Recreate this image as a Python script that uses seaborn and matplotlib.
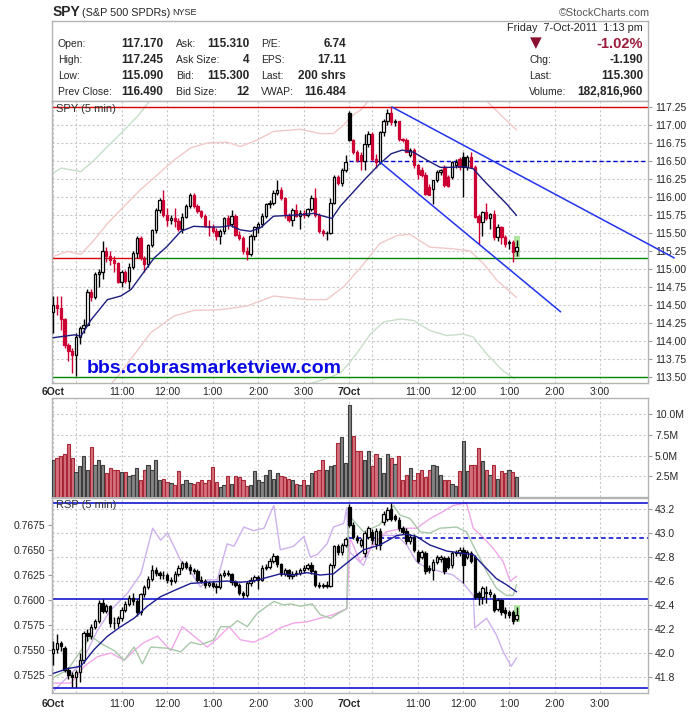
import numpy as np
import matplotlib
matplotlib.use("Agg")
import matplotlib.pyplot as plt
import seaborn as sns
from matplotlib.patches import Rectangle

sns.set_style("white")
plt.rcParams['font.family'] = ['Liberation Sans', 'DejaVu Sans']

# ---------------- data (5 min bars, 6 Oct bars 0-77, 7 Oct bars 78-122) ----------------
spy_open = [114.40, 114.50, 114.45, 114.30, 113.94, 113.85, 113.80, 114.05, 114.18, 114.22,
            114.68, 114.60, 114.92, 114.95, 115.25, 115.17, 115.12, 115.08, 114.82, 114.95,
            114.83, 115.03, 115.22, 115.43, 115.15, 115.06, 115.33, 115.54, 115.82, 115.96,
            115.75, 115.68, 115.70, 115.66, 115.55, 115.72, 115.87, 116.03, 115.87, 115.80,
            115.74, 115.60, 115.58, 115.52, 115.45, 115.52, 115.70, 115.62, 115.73, 115.47,
            115.43, 115.25, 115.20, 115.45, 115.58, 115.62, 115.74, 115.90, 115.92, 116.05,
            116.10, 115.98, 115.75, 115.68, 115.82, 115.74, 115.78, 115.75, 115.83, 115.99,
            115.75, 115.52, 115.49, 115.50, 115.92, 116.27, 116.19, 116.37,
            117.17, 116.79, 116.62, 116.58, 116.50, 116.74, 116.88, 116.53, 116.48, 116.90,
            117.06, 117.16, 117.04, 117.05, 116.80, 116.79, 116.58, 116.65, 116.44, 116.38,
            116.31, 116.13, 116.11, 116.23, 116.35, 116.41, 116.28, 116.28, 116.44, 116.52,
            116.55, 116.41, 116.55, 116.42, 115.74, 115.65, 115.79, 115.70, 115.76, 115.44,
            115.58, 115.44, 115.36, 115.37, 115.25]
spy_high = [114.62, 114.62, 114.62, 114.32, 113.96, 113.90, 114.10, 114.20, 114.30, 114.72,
            114.72, 114.95, 115.00, 115.38, 115.30, 115.25, 115.18, 115.10, 114.98, 114.98,
            115.08, 115.25, 115.45, 115.45, 115.18, 115.35, 115.55, 115.85, 115.98, 116.10,
            115.85, 115.75, 115.84, 115.70, 115.78, 115.90, 116.05, 116.05, 115.90, 115.82,
            115.76, 115.68, 115.62, 115.56, 115.55, 115.72, 115.75, 115.82, 115.76, 115.52,
            115.45, 115.30, 115.48, 115.60, 115.65, 115.78, 115.92, 115.95, 116.10, 116.24,
            116.14, 116.00, 115.78, 115.85, 115.90, 115.82, 115.82, 115.85, 116.02, 116.12,
            115.77, 115.55, 115.53, 115.98, 116.30, 116.30, 116.40, 116.58,
            117.20, 116.80, 116.65, 116.62, 116.88, 116.92, 116.90, 116.60, 116.92, 117.08,
            117.22, 117.245, 117.08, 117.06, 116.82, 116.82, 116.68, 116.68, 116.46, 116.42,
            116.34, 116.18, 116.24, 116.37, 116.39, 116.44, 116.30, 116.50, 116.53, 116.56,
            116.62, 116.58, 116.62, 116.44, 115.76, 115.80, 115.92, 115.78, 115.82, 115.62,
            115.60, 115.47, 115.40, 115.40, 115.40]
spy_low = [114.11, 114.35, 114.15, 113.90, 113.72, 113.55, 113.51, 113.95, 114.10, 114.20,
           114.55, 114.58, 114.75, 114.85, 115.10, 115.05, 114.95, 114.80, 114.75, 114.80,
           114.72, 115.00, 115.15, 115.12, 114.95, 115.03, 115.30, 115.50, 115.78, 115.72,
           115.60, 115.62, 115.58, 115.52, 115.50, 115.70, 115.85, 115.85, 115.78, 115.70,
           115.58, 115.45, 115.50, 115.40, 115.35, 115.48, 115.55, 115.58, 115.45, 115.40,
           115.20, 115.12, 115.18, 115.40, 115.50, 115.58, 115.70, 115.85, 115.88, 116.02,
           115.95, 115.70, 115.65, 115.60, 115.72, 115.55, 115.70, 115.72, 115.80, 115.72,
           115.50, 115.45, 115.40, 115.48, 115.90, 116.17, 116.15, 116.35,
           116.78, 116.60, 116.48, 116.37, 116.37, 116.70, 116.50, 116.40, 116.45, 116.85,
           117.00, 117.00, 116.98, 116.78, 116.76, 116.62, 116.55, 116.40, 116.25, 116.28,
           116.02, 116.02, 115.90, 116.20, 116.30, 116.14, 116.14, 116.25, 116.40, 116.38,
           116.00, 116.38, 116.40, 115.70, 115.35, 115.45, 115.68, 115.55, 115.40, 115.38,
           115.35, 115.30, 115.28, 115.09, 115.18]
spy_close = [114.50, 114.45, 114.30, 113.94, 113.85, 113.80, 114.05, 114.18, 114.22, 114.68,
             114.60, 114.92, 114.95, 115.25, 115.17, 115.12, 115.08, 114.82, 114.95, 114.83,
             115.03, 115.22, 115.43, 115.15, 115.06, 115.33, 115.54, 115.82, 115.96, 115.75,
             115.68, 115.70, 115.66, 115.55, 115.72, 115.87, 116.03, 115.87, 115.80, 115.74,
             115.60, 115.58, 115.52, 115.45, 115.52, 115.70, 115.62, 115.73, 115.47, 115.43,
             115.25, 115.20, 115.45, 115.58, 115.62, 115.74, 115.90, 115.92, 116.05, 116.10,
             115.98, 115.75, 115.68, 115.82, 115.74, 115.78, 115.75, 115.83, 115.99, 115.75,
             115.52, 115.49, 115.50, 115.92, 116.27, 116.19, 116.37, 116.49,
             116.79, 116.62, 116.51, 116.50, 116.74, 116.88, 116.53, 116.48, 116.90, 117.06,
             117.16, 117.04, 117.05, 116.80, 116.79, 116.62, 116.65, 116.44, 116.32, 116.31,
             116.04, 116.03, 116.23, 116.35, 116.37, 116.16, 116.15, 116.48, 116.48, 116.41,
             116.41, 116.55, 116.42, 115.72, 115.65, 115.79, 115.70, 115.76, 115.44, 115.58,
             115.44, 115.35, 115.37, 115.23, 115.30]

volume_m = [4.5, 4.7, 5.0, 5.2, 6.4, 4.7, 3.0, 3.7, 4.9, 3.3,
            6.0, 3.9, 4.5, 3.8, 2.9, 3.5, 3.3, 3.3, 3.0, 3.0,
            2.5, 2.7, 3.5, 2.1, 3.3, 3.9, 3.3, 4.5, 2.0, 2.2,
            1.8, 1.7, 1.5, 3.1, 1.6, 2.0, 1.7, 1.6, 1.8, 2.1,
            1.7, 2.1, 3.6, 1.8, 1.2, 1.4, 2.5, 1.6, 2.5, 2.4,
            2.0, 1.3, 1.4, 3.1, 2.0, 1.8, 2.7, 3.2, 2.2, 2.9,
            2.5, 2.4, 2.2, 2.0, 1.6, 1.4, 2.0, 1.4, 2.9, 3.1,
            3.3, 4.5, 3.3, 3.7, 3.9, 6.5, 7.2, 4.1,
            11.1, 7.3, 5.5, 5.5, 4.4, 5.5, 3.7, 5.2, 4.7, 2.9,
            5.2, 4.7, 4.0, 4.9, 2.0, 2.7, 3.5, 2.0, 2.9, 3.3,
            2.4, 3.3, 3.9, 3.7, 2.7, 2.0, 2.1, 1.6, 1.3, 3.1,
            6.7, 3.1, 3.9, 3.9, 5.9, 4.3, 3.2, 2.7, 3.9, 2.2,
            3.1, 2.9, 3.2, 3.0, 2.4]

rsp_open = [42.00, 42.03, 42.08, 42.04, 41.86, 41.82, 41.80, 41.84, 41.94, 42.17,
            42.14, 42.22, 42.27, 42.42, 42.35, 42.39, 42.25, 42.25, 42.29, 42.36,
            42.41, 42.46, 42.43, 42.34, 42.49, 42.55, 42.62, 42.69, 42.67, 42.65,
            42.65, 42.61, 42.60, 42.66, 42.71, 42.75, 42.72, 42.69, 42.68, 42.61,
            42.60, 42.57, 42.58, 42.56, 42.55, 42.65, 42.67, 42.66, 42.59, 42.57,
            42.50, 42.48, 42.58, 42.61, 42.63, 42.61, 42.71, 42.72, 42.77, 42.81,
            42.74, 42.66, 42.69, 42.64, 42.66, 42.67, 42.69, 42.71, 42.73, 42.68,
            42.57, 42.56, 42.56, 42.56, 42.73, 42.89, 42.84, 42.90,
            43.22, 43.07, 42.96, 42.90, 42.83, 42.97, 43.01, 42.91, 43.02, 43.09,
            43.12, 43.20, 43.14, 43.11, 43.04, 43.02, 42.93, 42.97, 42.84, 42.80,
            42.83, 42.71, 42.69, 42.76, 42.78, 42.79, 42.79, 42.73, 42.83, 42.83,
            42.86, 42.80, 42.83, 42.80, 42.50, 42.47, 42.51, 42.49, 42.48, 42.37,
            42.44, 42.36, 42.34, 42.34, 42.28]
rsp_high = [42.10, 42.16, 42.10, 42.06, 41.88, 41.84, 41.86, 42.00, 42.18, 42.20,
            42.24, 42.28, 42.44, 42.45, 42.41, 42.40, 42.30, 42.31, 42.38, 42.43,
            42.48, 42.50, 42.45, 42.50, 42.57, 42.64, 42.73, 42.72, 42.68, 42.68,
            42.67, 42.63, 42.68, 42.73, 42.77, 42.77, 42.74, 42.71, 42.70, 42.64,
            42.62, 42.60, 42.60, 42.58, 42.67, 42.69, 42.69, 42.67, 42.61, 42.58,
            42.52, 42.60, 42.63, 42.65, 42.65, 42.73, 42.74, 42.79, 42.83, 42.82,
            42.75, 42.71, 42.70, 42.68, 42.69, 42.71, 42.73, 42.75, 42.76, 42.69,
            42.59, 42.58, 42.60, 42.75, 42.90, 42.91, 42.92, 42.97,
            43.24, 43.09, 42.98, 42.96, 43.02, 43.06, 43.03, 43.04, 43.04, 43.18,
            43.22, 43.25, 43.16, 43.13, 43.06, 43.04, 42.99, 42.99, 42.86, 42.86,
            42.85, 42.73, 42.78, 42.82, 42.82, 42.81, 42.81, 42.85, 42.86, 42.88,
            42.88, 42.86, 42.85, 42.82, 42.52, 42.56, 42.56, 42.53, 42.50, 42.46,
            42.45, 42.38, 42.36, 42.36, 42.38]
rsp_low = [41.90, 42.00, 42.02, 41.84, 41.78, 41.72, 41.72, 41.76, 41.92, 42.10,
           42.12, 42.20, 42.25, 42.33, 42.33, 42.22, 42.20, 42.22, 42.27, 42.34,
           42.39, 42.40, 42.31, 42.32, 42.47, 42.53, 42.60, 42.64, 42.62, 42.62,
           42.58, 42.57, 42.58, 42.64, 42.69, 42.70, 42.66, 42.66, 42.59, 42.58,
           42.54, 42.55, 42.54, 42.50, 42.53, 42.63, 42.64, 42.57, 42.55, 42.48,
           42.46, 42.47, 42.56, 42.59, 42.53, 42.60, 42.69, 42.70, 42.75, 42.72,
           42.64, 42.64, 42.62, 42.62, 42.64, 42.65, 42.67, 42.69, 42.66, 42.55,
           42.54, 42.54, 42.54, 42.55, 42.71, 42.82, 42.82, 42.88,
           43.05, 42.95, 42.92, 42.88, 42.80, 42.95, 42.91, 42.87, 42.86, 43.07,
           43.10, 43.10, 43.10, 43.02, 42.99, 42.91, 42.91, 42.84, 42.75, 42.78,
           42.66, 42.67, 42.61, 42.74, 42.76, 42.66, 42.70, 42.71, 42.81, 42.81,
           42.58, 42.78, 42.75, 42.45, 42.40, 42.41, 42.42, 42.47, 42.34, 42.35,
           42.32, 42.29, 42.29, 42.24, 42.27]
rsp_close = [42.03, 42.08, 42.06, 41.86, 41.82, 41.80, 41.84, 41.94, 42.17, 42.14,
             42.22, 42.27, 42.42, 42.35, 42.39, 42.25, 42.25, 42.29, 42.36, 42.41,
             42.46, 42.43, 42.34, 42.49, 42.55, 42.62, 42.69, 42.67, 42.65, 42.65,
             42.61, 42.60, 42.66, 42.71, 42.75, 42.72, 42.69, 42.68, 42.61, 42.60,
             42.57, 42.58, 42.56, 42.55, 42.65, 42.67, 42.66, 42.59, 42.57, 42.50,
             42.48, 42.58, 42.61, 42.63, 42.61, 42.71, 42.72, 42.77, 42.81, 42.74,
             42.66, 42.69, 42.64, 42.66, 42.67, 42.69, 42.71, 42.73, 42.68, 42.57,
             42.56, 42.56, 42.56, 42.73, 42.89, 42.84, 42.90, 42.95,
             43.07, 42.97, 42.94, 42.94, 43.00, 43.04, 42.94, 43.02, 42.90, 43.16,
             43.19, 43.12, 43.12, 43.04, 43.01, 42.93, 42.97, 42.86, 42.77, 42.84,
             42.68, 42.69, 42.76, 42.80, 42.80, 42.68, 42.72, 42.83, 42.84, 42.86,
             42.73, 42.84, 42.77, 42.47, 42.47, 42.54, 42.50, 42.51, 42.36, 42.44,
             42.34, 42.33, 42.32, 42.27, 42.32]

# overlays (bar position, value)
spy_ma_x = [0, 5.6, 7.3, 10, 14.3, 17.8, 20.5, 23, 26.6, 30, 33.6, 37, 40.6, 44, 46.7, 49.3, 52,
            54.6, 58, 61.6, 65, 68.6, 71.2, 73.4, 75.6, 78.2, 81.8, 86, 89, 91.9, 94.9, 98.4,
            101.9, 104.5, 108, 110.6, 113.3, 116.8, 119.4, 122]
spy_ma_y = [114.04, 114.08, 114.06, 114.29, 114.57, 114.62, 114.71, 114.89, 115.15, 115.31,
            115.52, 115.59, 115.58, 115.58, 115.60, 115.54, 115.52, 115.57, 115.73, 115.74,
            115.75, 115.77, 115.73, 115.70, 115.87, 116.02, 116.23, 116.46, 116.60, 116.65,
            116.62, 116.51, 116.41, 116.41, 116.42, 116.39, 116.23, 116.04, 115.90, 115.74]
band_up_x = [0, 3.8, 7.3, 10.8, 14.3, 18.7, 23, 27.5, 31.8, 36.2, 40.6, 45.8, 49.3, 53.7, 58,
             65, 70.3, 73.8, 76.5, 79, 81, 84, 100, 110, 114, 118, 122]
band_up_y = [115.17, 115.24, 115.20, 115.40, 115.63, 115.87, 116.10, 116.31, 116.51, 116.68,
             116.75, 116.76, 116.70, 116.79, 116.91, 116.94, 116.88, 116.88, 117.00, 117.14,
             117.21, 117.40, 117.60, 117.45, 117.34, 117.13, 116.93]
band_lo_x = [0, 12, 17, 25.7, 31.8, 37, 44, 51, 58, 66.8, 72, 76.5, 81, 86, 90.4, 93.9, 99.2,
             104.5, 109.7, 113.3, 116.8, 122]
band_lo_y = [112.70, 113.20, 113.50, 114.11, 114.34, 114.42, 114.43, 114.48, 114.62, 114.57,
             114.57, 114.75, 115.02, 115.35, 115.46, 115.48, 115.30, 115.28, 115.25, 115.07,
             114.84, 114.60]
band2_up_x = [0, 2.1, 7.3, 10.8, 14.3, 17.8, 22.2, 25.7, 30]
band2_up_y = [116.33, 116.40, 116.35, 116.51, 116.70, 116.88, 117.12, 117.35, 117.60]
band2_lo_x = [58, 67, 73, 75.6, 78.2, 81, 83.5, 87, 91.4, 94.9, 99.2, 103.6, 108, 110.6, 114,
              118.4, 121.4]
band2_lo_y = [113.25, 113.39, 113.49, 113.55, 113.70, 113.90, 114.09, 114.26, 114.30, 114.28,
              114.14, 114.07, 114.09, 114.05, 113.82, 113.58, 113.47]

rsp_ma_x = [0, 3.8, 7.3, 10.8, 14.3, 17.8, 21.3, 24.8, 28.3, 31.8, 36.2, 40.6, 45.8, 49.3,
            52.8, 56.3, 59.8, 63.3, 66.8, 70.3, 73.8, 77.3, 81.7, 86, 90.5, 93.1, 95.7, 99.2,
            103.6, 108, 110.6, 113.3, 116.7, 119.3, 122]
rsp_ma_y = [41.83, 41.87, 41.89, 42.03, 42.14, 42.22, 42.29, 42.39, 42.47, 42.52, 42.58,
            42.59, 42.60, 42.59, 42.60, 42.63, 42.66, 42.65, 42.67, 42.65, 42.66, 42.75,
            42.86, 42.90, 42.98, 42.99, 42.97, 42.90, 42.85, 42.83, 42.82, 42.73, 42.62,
            42.57, 42.51]
lav_x = [0.3, 7.3, 11.7, 15.2, 19.6, 23.1, 26.2, 28.3, 30.1, 33.6, 35.3, 38.8, 40.6, 43.2,
         45.8, 47.6, 50.2, 52.8, 55.5, 58.1, 59.8, 63.3, 66, 67.7, 69.5, 72.1, 73.8, 76.5,
         77.3, 77.8, 81.7, 84.3, 87, 90.5, 93.1, 95.7, 98.3, 101.8, 105.3, 108, 110.6, 111,
         114.1, 116.7, 118.5, 120.6, 122]
lav_y = [41.69, 41.91, 42.19, 42.36, 42.50, 42.66, 43.04, 42.94, 43.00, 42.77, 42.72, 42.55,
         42.61, 42.61, 42.91, 42.89, 43.05, 43.02, 43.04, 43.23, 42.86, 42.89, 42.97, 42.80,
         42.82, 42.91, 43.05, 43.08, 43.21, 42.85, 42.73, 42.93, 42.98, 42.98, 42.90, 42.76,
         42.71, 42.68, 42.65, 42.58, 42.48, 42.21, 42.29, 42.15, 42.01, 41.89, 41.96]
mag_x = [0.3, 4.7, 8.2, 11.7, 15.2, 18.7, 21.3, 24, 27.5, 31, 34, 37.1, 40.6, 43.2, 46.3,
         49.3, 52.8, 56.3, 59.8, 63.3, 66.8, 70.3, 73.8, 77.3, 78.2, 80.8, 84.3, 87.7, 92,
         95.7, 99.2, 102.7, 105.3, 108.8, 110.6, 113.3, 115.9, 118.5, 120.3, 122]
mag_y = [41.75, 41.75, 41.89, 41.97, 42.00, 41.94, 42.02, 42.09, 42.14, 42.02, 42.22, 42.14,
         42.05, 42.12, 42.22, 42.11, 42.09, 42.14, 42.21, 42.25, 42.26, 42.29, 42.32, 42.37,
         42.96, 42.76, 42.90, 43.01, 43.04, 43.04, 43.12, 43.18, 43.23, 43.25, 43.04, 42.96,
         42.87, 42.76, 42.60, 42.64]
grn_x = [0.3, 3.8, 7.3, 10, 12.6, 16.1, 18.7, 21.3, 23.5, 25.7, 30.1, 33.6, 36.2, 38.8, 42.3,
         44.1, 46.7, 48.5, 51.1, 53.7, 56.3, 58.1, 60.7, 62.5, 65.1, 68.2, 70.3, 73, 75.6,
         77.3, 77.8, 81.7, 86, 89.6, 91.3, 94, 96.6, 99.2, 101.8, 106.2, 108.8, 111.5, 114.1,
         116.7, 119.3, 121.1, 122]
grn_y = [41.80, 41.86, 42.02, 42.14, 42.08, 42.02, 41.94, 42.05, 41.91, 42.05, 42.04, 42.01,
         42.09, 42.07, 42.11, 42.22, 42.22, 42.27, 42.22, 42.33, 42.39, 42.43, 42.40, 42.41,
         42.39, 42.41, 42.32, 42.29, 42.34, 42.37, 43.15, 43.01, 43.07, 43.23, 43.15, 43.12,
         43.01, 43.00, 43.04, 43.05, 43.01, 42.84, 42.68, 42.54, 42.48, 42.48, 42.57]

# trend lines drawn on the chart: (bar, price) end points
trend_upper_x = [89.2, 163.5]
trend_upper_y = [117.25, 115.15]
trend_lower_x = [86.1, 133.6]
trend_lower_y = [116.48, 114.40]

tick_pos = [0, 6, 18, 30, 42, 54, 66, 78, 84, 96, 108, 120, 132, 144]
tick_lab = ['6Oct', '', '11:00', '12:00', '1:00', '2:00', '3:00',
            '7Oct', '', '11:00', '12:00', '1:00', '2:00', '3:00']

# ---------------- layout ----------------
W, H = 700, 712
fig = plt.figure(figsize=(7, 7.12), dpi=100)
fig.patch.set_facecolor('white')


def box(l, t, r, b):
    return [l / W, 1 - b / H, (r - l) / W, (b - t) / H]


ax_info = fig.add_axes(box(52, 21, 648, 101))
ax_p = fig.add_axes(box(52, 101, 648, 383))
ax_v = fig.add_axes(box(52, 398, 648, 497))
ax_r = fig.add_axes(box(52, 498, 648, 693))

SPINE = '#b4b4b4'
GRID = '#c8c8c8'
RED = '#cc0033'
XMIN, XMAX = -0.3, 156.6
n = len(spy_close)
xs = np.arange(n)

for ax in (ax_info, ax_p, ax_v, ax_r):
    for s in ax.spines.values():
        s.set_color(SPINE)
        s.set_linewidth(1)
ax_info.set_xticks([])
ax_info.set_yticks([])


def style_panel(ax, labels):
    ax.set_xlim(XMIN, XMAX)
    ax.set_xticks(tick_pos)
    ax.set_xticklabels(tick_lab if labels else [])
    ax.tick_params(axis='x', length=0, labelsize=7.5, pad=3 if labels else 0)
    for t in ax.get_xticklabels():
        if 'Oct' in t.get_text():
            t.set_fontweight('bold')
    ax.yaxis.tick_right()
    ax.tick_params(axis='y', length=3, color='#999999', labelsize=7.5, pad=2)
    ax.grid(True, color=GRID, lw=0.8, ls=(0, (2, 2)))
    ax.set_axisbelow(True)


def candles(ax, o, h, l, c, edge, face):
    ax.vlines(xs, l, h, colors=edge, lw=1, zorder=3)
    o = np.array(o)
    c = np.array(c)
    bottom = np.minimum(o, c)
    height = np.maximum(np.abs(c - o), 0.003)
    ax.bar(xs, height, 0.62, bottom=bottom, color=face, edgecolor=edge, lw=0.9, zorder=4)


# ---------------- price panel ----------------
so, sh, sl, sc = (np.array(a) for a in (spy_open, spy_high, spy_low, spy_close))
prev = np.r_[so[0], sc[:-1]]
down = sc < prev
edge = [RED if d else 'black' for d in down]
face = [e if cc < oo else 'white' for e, cc, oo in zip(edge, sc, so)]

style_panel(ax_p, True)
ax_p.set_ylim(113.41, 117.333)
ax_p.set_yticks(np.arange(113.5, 117.26, 0.25))
ax_p.set_yticklabels(['%.2f' % v for v in np.arange(113.5, 117.26, 0.25)])

sns.lineplot(x=band_up_x, y=band_up_y, ax=ax_p, color='#f2c8c8', lw=1, sort=False, estimator=None)
sns.lineplot(x=band_lo_x, y=band_lo_y, ax=ax_p, color='#f2c8c8', lw=1, sort=False, estimator=None)
sns.lineplot(x=band2_up_x, y=band2_up_y, ax=ax_p, color='#c8dec8', lw=1, sort=False, estimator=None)
sns.lineplot(x=band2_lo_x, y=band2_lo_y, ax=ax_p, color='#c8dec8', lw=1, sort=False, estimator=None)

ax_p.axhline(117.25, color='#dd0000', lw=1, zorder=2)
ax_p.axhline(113.50, color='#008800', lw=1, zorder=2)
ax_p.plot([XMIN, 23], [115.15, 115.15], color='#dd0000', lw=1, zorder=2)
ax_p.plot([23, XMAX], [115.15, 115.15], color='#008800', lw=1, zorder=2)
ax_p.plot([78, XMAX], [116.50, 116.50], color='#0000cc', lw=1, ls=(0, (3, 2)), zorder=2)

last = n - 1
ax_p.add_patch(Rectangle((last - 0.6, sl[last] - 0.02), 1.6, sh[last] - sl[last] + 0.08,
                         color='#b0e6a0', zorder=2, lw=0))
candles(ax_p, so, sh, sl, sc, edge, face)
sns.lineplot(x=spy_ma_x, y=spy_ma_y, ax=ax_p, color='#1c1c80', lw=1.0, sort=False,
             estimator=None, zorder=5)
ax_p.plot(trend_upper_x, trend_upper_y, color='#2233ee', lw=1.1, clip_on=False, zorder=6)
ax_p.plot(trend_lower_x, trend_lower_y, color='#2233ee', lw=1.1, clip_on=False, zorder=6)
ax_p.set_xlim(XMIN, XMAX)
ax_p.set_ylim(113.41, 117.333)
ax_p.set_xlabel('')
ax_p.set_ylabel('')
ax_p.text(0.006, 0.99, 'SPY (5 min)', transform=ax_p.transAxes, ha='left', va='top',
          fontsize=8, color='#333333')
fig.text(87 / W, 1 - 368 / H, 'bbs.cobrasmarketview.com', fontsize=14, fontweight='bold',
         color='#0a0ae6', ha='left', va='center')

# ---------------- volume panel ----------------
vcol = ['#d4707c' if d else '#848484' for d in down]
vedge = ['#a82838' if d else '#3c3c3c' for d in down]
style_panel(ax_v, False)
ax_v.bar(xs, volume_m, 0.85, color=vcol, edgecolor=vedge, lw=0.8, zorder=3)
ax_v.set_ylim(0, 11.93)
ax_v.set_yticks([2.5, 5, 7.5, 10])
ax_v.set_yticklabels(['2.5M', '5.0M', '7.5M', '10.0M'])

# ---------------- RSP panel ----------------
ro, rh, rl, rc = (np.array(a) for a in (rsp_open, rsp_high, rsp_low, rsp_close))
rface = ['black' if cc < oo else 'white' for cc, oo in zip(rc, ro)]
style_panel(ax_r, True)
ax_r.tick_params(axis='x', pad=4)
ax_r.set_ylim(41.667, 43.292)
rt = np.arange(41.8, 43.21, 0.2)
ax_r.set_yticks(rt)
ax_r.set_yticklabels(['%.1f' % v for v in rt])

sns.lineplot(x=lav_x, y=lav_y, ax=ax_r, color='#cdb0ee', lw=1, sort=False, estimator=None)
sns.lineplot(x=mag_x, y=mag_y, ax=ax_r, color='#f2a6ea', lw=1, sort=False, estimator=None)
sns.lineplot(x=grn_x, y=grn_y, ax=ax_r, color='#a8c8a8', lw=1, sort=False, estimator=None)
for lvl in (43.25, 42.45, 41.71):
    ax_r.axhline(lvl, color='#0000cc', lw=1.1, zorder=2)
ax_r.plot([78, XMAX], [42.96, 42.96], color='#0000cc', lw=1.1, ls=(0, (3, 2)), zorder=2)
ax_r.add_patch(Rectangle((last - 0.6, rl[last] - 0.01), 1.6, rh[last] - rl[last] + 0.03,
                         color='#b0e6a0', zorder=2, lw=0))
candles(ax_r, ro, rh, rl, rc, 'black', rface)
sns.lineplot(x=rsp_ma_x, y=rsp_ma_y, ax=ax_r, color='#1c1c90', lw=1.0, sort=False,
             estimator=None, zorder=5)
ax_r.set_xlim(XMIN, XMAX)
ax_r.set_ylim(41.667, 43.292)
ax_r.set_xlabel('')
ax_r.set_ylabel('')
ax_r.text(0.006, 0.99, 'RSP (5 min)', transform=ax_r.transAxes, ha='left', va='top',
          fontsize=8, color='#333333')

left = ax_r.secondary_yaxis('left', functions=(lambda p: 0.2507 + 0.012 * p,
                                               lambda r: (r - 0.2507) / 0.012))
lt = [0.7525, 0.7550, 0.7575, 0.7600, 0.7625, 0.7650, 0.7675]
left.set_yticks(lt)
left.set_yticklabels(['%.4f' % v for v in lt])
left.tick_params(length=3, color='#999999', labelsize=7.5, pad=2)
left.spines['left'].set_color(SPINE)

# ---------------- header ----------------
def ftext(x, y, s, **kw):
    fig.text(x / W, 1 - y / H, s, va='center', **kw)


ftext(53, 12, 'SPY', fontsize=10, fontweight='bold')
ftext(82, 12.5, '(S&P 500 SPDRs)', fontsize=7.8)
ftext(172, 12.5, 'NYSE', fontsize=6.5)
ftext(650, 12.5, '\u00a9StockCharts.com', fontsize=7.8, color='#555555', ha='right')
ftext(643, 28, 'Friday  7-Oct-2011  1:13 pm', fontsize=7.8, ha='right')

rows_y = [43.7, 60.3, 76, 91.7]
col_lab_x = [58, 176, 261]
col_val_x = [163.5, 249.5, 346]
info_labels = [['Open:', 'Ask:', 'P/E:'],
               ['High:', 'Ask Size:', 'EPS:'],
               ['Low:', 'Bid:', 'Last:'],
               ['Prev Close:', 'Bid Size:', 'VWAP:']]
info_values = [['117.170', '115.310', '6.74'],
               ['117.245', '4', '17.11'],
               ['115.090', '115.300', '200 shrs'],
               ['116.490', '12', '116.484']]
for ry, labs, vals in zip(rows_y, info_labels, info_values):
    for lx, vx, lab, val in zip(col_lab_x, col_val_x, labs, vals):
        ftext(lx, ry, lab, fontsize=7.5)
        ftext(vx, ry, val, fontsize=8.5, fontweight='bold', ha='right')

right_labels = ['', 'Chg:', 'Last:', 'Volume:']
right_values = ['-1.02%', '-1.190', '115.300', '182,816,960']
for ry, lab, val in zip(rows_y, right_labels, right_values):
    if lab:
        ftext(529, ry, lab, fontsize=7.5)
        ftext(643, ry, val, fontsize=8.5, fontweight='bold', ha='right')
    else:
        ftext(643, ry, val, fontsize=10.5, fontweight='bold', ha='right', color='#9b1b3b')
ftext(536, 43, '\u25bc', fontsize=11, color='#8b1030', ha='center',
      family=['DejaVu Sans'])

fig.savefig('out.png', dpi=100, facecolor='white')
